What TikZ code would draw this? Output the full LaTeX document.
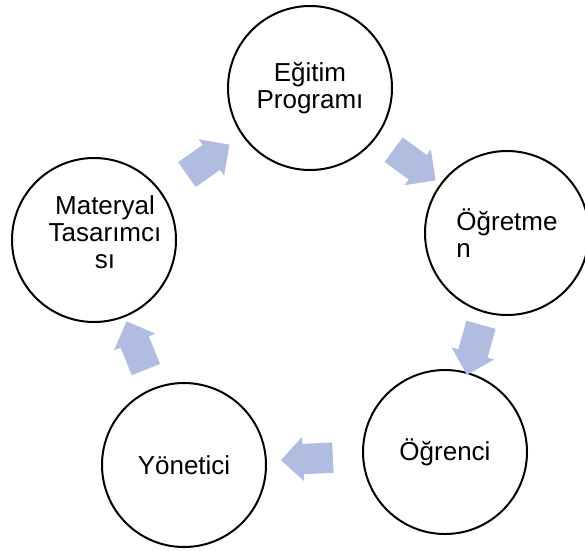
\documentclass[tikz,border=0pt]{standalone}
\usepackage{fontspec}
\setmainfont{Liberation Sans}
\usepackage{xcolor}
\usepackage{tikz}
\usetikzlibrary{shapes.arrows,calc}
\definecolor{flowblue}{RGB}{176,189,224}

\begin{document}
\begin{tikzpicture}
        [
            x = 1pt, y = -1pt,
            stage/.style = {circle, draw, line width = 2pt, minimum size = 164pt, inner sep = 0pt,
                font = \fontsize{26}{27}\selectfont, align = center},
            flow/.style = {single arrow, fill = flowblue, draw = none, inner xsep = 0pt, inner ysep = 15pt,
                minimum height = 52pt, single arrow head extend = 7pt}]
        \useasboundingbox (0,0) rectangle (585,550);
        \node[stage] (egitim) at (310,88) {Eğitim\\Programı};
        \node[stage, align = left] (ogretmen) at (507,233) {Öğretme\\n};
        \node[stage] (ogrenci) at (445,452) {Öğrenci};
        \node[stage] (yonetici) at (184,465) {Yönetici};
        \node[stage, label = {[xshift = 11pt, yshift = 8pt, font = \fontsize{26}{27}\selectfont,
                align = center]center:Materyal\\Tasarımcı\\sı}] (materyal) at (94,240) {};
        % arrows round the cycle
        \foreach \from/\to in {materyal/egitim, egitim/ogretmen, ogretmen/ogrenci,
                ogrenci/yonetici, yonetici/materyal}
            \path let \p1 = ($(\to)-(\from)$), \n1 = {atan2(\y1,\x1)} in
                node[flow, rotate = \n1] (\from-\to) at ($(\from)!0.5!(\to)$) {};
\end{tikzpicture}
\end{document}
